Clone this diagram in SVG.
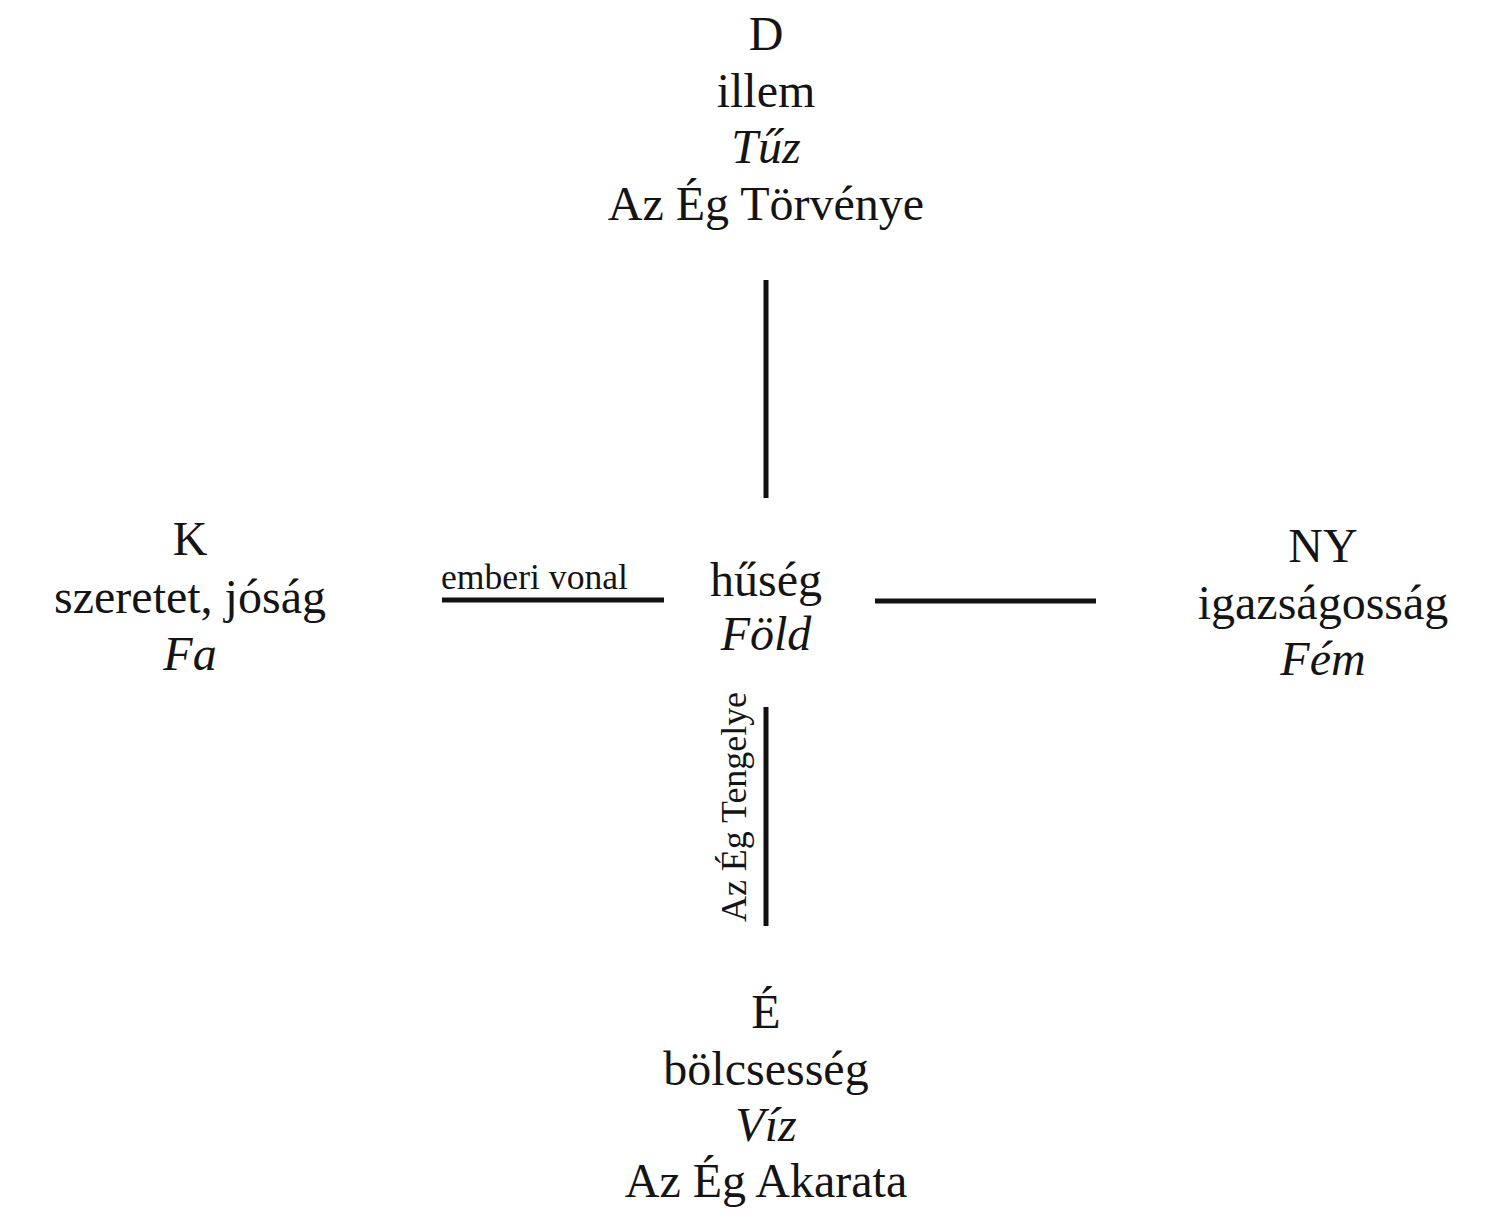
<svg xmlns="http://www.w3.org/2000/svg" width="1502" height="1221" viewBox="0 0 1502 1221">
<style>
text{font-family:"Liberation Serif","Times New Roman","DejaVu Serif",serif;fill:#141414;text-anchor:middle}
.t{font-size:48px}
.i{font-style:italic}
.s{font-size:36px}
line{stroke:#111;stroke-width:5}
</style>
<rect width="1502" height="1221" fill="#fff"/>
<g id="connectors">
<line x1="766" y1="280" x2="766" y2="498"/>
<line x1="442" y1="600" x2="664" y2="600"/>
<line x1="875" y1="601" x2="1096" y2="601"/>
<line x1="766" y1="707" x2="766" y2="926"/>
</g>
<g id="node-D">
<text class="t" x="766" y="50">D</text>
<text class="t" x="766" y="107">illem</text>
<text class="t i" x="766" y="163">Tűz</text>
<text class="t" x="766" y="220">Az Ég Törvénye</text>
</g>
<g id="node-K">
<text class="t" x="190" y="555">K</text>
<text class="t" x="190" y="613">szeretet, jóság</text>
<text class="t i" x="190" y="670">Fa</text>
</g>
<g id="node-center">
<text class="t" x="766" y="596">hűség</text>
<text class="t i" x="766" y="650">Föld</text>
</g>
<g id="node-NY">
<text class="t" x="1323" y="562">NY</text>
<text class="t" x="1323" y="619">igazságosság</text>
<text class="t i" x="1323" y="675">Fém</text>
</g>
<g id="node-E">
<text class="t" x="766" y="1028">É</text>
<text class="t" x="766" y="1085">bölcsesség</text>
<text class="t i" x="766" y="1141">Víz</text>
<text class="t" x="766" y="1197">Az Ég Akarata</text>
</g>
<g id="label-emberi">
<text class="s" x="441" y="589" style="text-anchor:start" textLength="187" lengthAdjust="spacingAndGlyphs">emberi vonal</text>
</g>
<g id="label-tengely">
<text class="s" transform="translate(746,807) rotate(-90)" x="0" y="0" textLength="230" lengthAdjust="spacingAndGlyphs">Az Ég Tengelye</text>
</g>
</svg>
